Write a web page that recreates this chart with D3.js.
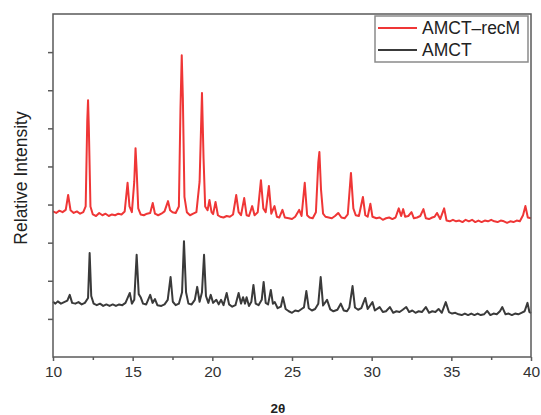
<!DOCTYPE html>
<html>
<head>
<meta charset="utf-8">
<script src="https://cdn.jsdelivr.net/npm/d3@7"></script>
<style>
  body { margin: 0; background: #fff; }
  text { font-family: "Liberation Sans", Arial, sans-serif; }
</style>
</head>
<body>
<div id="chart"></div>
<script>
// diffractogram points: [2theta, relative intensity]
var recM = [
  [10.0,3.82],[10.2,3.78],[10.4,3.84],[10.6,3.80],[10.8,3.86],[10.95,4.25],[11.1,3.85],[11.3,3.78],[11.5,3.82],[11.7,3.76],
  [11.9,3.80],[12.05,3.95],[12.15,6.2],[12.2,6.74],[12.25,6.0],[12.35,3.95],[12.5,3.74],[12.7,3.70],[12.9,3.78],[13.1,3.72],
  [13.3,3.76],[13.5,3.70],[13.7,3.74],[13.9,3.72],[14.1,3.76],[14.3,3.74],[14.5,3.82],[14.68,4.57],[14.8,3.95],[14.95,3.80],
  [15.1,4.6],[15.18,5.48],[15.25,4.9],[15.35,3.9],[15.5,3.74],[15.7,3.72],[15.9,3.76],[16.1,3.78],[16.26,4.04],[16.4,3.76],
  [16.6,3.72],[16.8,3.76],[17.0,3.82],[17.22,4.09],[17.35,3.85],[17.5,3.80],[17.7,3.78],[17.9,3.95],[18.0,6.5],[18.08,7.92],
  [18.15,6.8],[18.25,4.2],[18.4,3.80],[18.6,3.72],[18.8,3.76],[19.0,3.80],[19.2,4.6],[19.35,6.93],[19.45,5.2],[19.55,3.95],
  [19.7,3.85],[19.82,4.12],[19.95,3.80],[20.05,3.75],[20.2,4.07],[20.35,3.72],[20.5,3.68],[20.7,3.66],[20.9,3.70],[21.1,3.68],
  [21.3,3.74],[21.5,4.25],[21.65,3.80],[21.8,3.72],[22.0,4.17],[22.15,3.72],[22.3,3.70],[22.5,3.96],[22.65,3.72],[22.85,3.80],
  [23.05,4.64],[23.2,3.90],[23.35,3.80],[23.55,4.49],[23.7,3.76],[23.9,3.96],[24.05,3.68],[24.2,3.66],[24.4,3.86],[24.55,3.66],
  [24.8,3.64],[25.0,3.62],[25.2,3.68],[25.45,3.86],[25.6,3.70],[25.8,4.57],[25.95,3.72],[26.1,3.66],[26.3,3.64],[26.5,3.80],
  [26.65,5.1],[26.72,5.38],[26.82,4.4],[26.95,3.76],[27.1,3.68],[27.3,3.66],[27.5,3.64],[27.7,3.70],[27.9,3.78],[28.1,3.66],
  [28.3,3.64],[28.5,3.74],[28.7,4.83],[28.85,3.90],[29.0,3.72],[29.2,3.70],[29.45,4.20],[29.6,3.72],[29.75,3.68],[29.92,4.02],
  [30.05,3.68],[30.3,3.64],[30.5,3.66],[30.7,3.60],[30.9,3.64],[31.1,3.66],[31.3,3.62],[31.5,3.66],[31.7,3.90],[31.85,3.70],
  [31.98,3.88],[32.1,3.68],[32.3,3.70],[32.5,3.80],[32.65,3.64],[32.85,3.66],[33.05,3.70],[33.25,3.88],[33.4,3.64],[33.6,3.62],
  [33.8,3.66],[33.95,3.68],[34.1,3.78],[34.3,3.62],[34.55,3.90],[34.7,3.58],[34.9,3.56],[35.1,3.60],[35.3,3.56],[35.5,3.58],
  [35.7,3.54],[35.9,3.60],[36.1,3.56],[36.3,3.60],[36.5,3.54],[36.7,3.58],[36.9,3.54],[37.1,3.58],[37.3,3.56],[37.5,3.60],
  [37.7,3.56],[37.9,3.54],[38.1,3.58],[38.3,3.56],[38.5,3.52],[38.7,3.56],[38.9,3.54],[39.1,3.58],[39.3,3.56],[39.5,3.72],
  [39.65,3.96],[39.8,3.66],[40.0,3.64]
];

var amct = [
  [10.0,1.45],[10.15,1.40],[10.3,1.46],[10.5,1.40],[10.7,1.44],[10.9,1.48],[11.05,1.63],[11.2,1.42],[11.4,1.40],[11.6,1.44],
  [11.8,1.38],[12.0,1.42],[12.2,1.55],[12.3,2.73],[12.4,1.60],[12.55,1.40],[12.75,1.36],[12.95,1.40],[13.15,1.34],[13.35,1.38],
  [13.55,1.34],[13.75,1.38],[13.95,1.34],[14.15,1.38],[14.35,1.36],[14.55,1.42],[14.82,1.68],[14.95,1.40],[15.1,1.50],[15.25,2.68],
  [15.38,1.65],[15.5,1.57],[15.65,1.40],[15.85,1.38],[16.1,1.63],[16.25,1.42],[16.4,1.52],[16.55,1.36],[16.8,1.34],[17.0,1.38],
  [17.2,1.50],[17.38,2.10],[17.52,1.45],[17.7,1.36],[17.9,1.40],[18.1,1.70],[18.22,3.04],[18.35,1.70],[18.5,1.40],[18.7,1.38],
  [18.9,1.50],[19.05,1.84],[19.2,1.45],[19.35,1.70],[19.48,2.68],[19.6,1.60],[19.75,1.42],[19.9,1.63],[20.05,1.42],[20.25,1.50],
  [20.4,1.38],[20.55,1.50],[20.7,1.36],[20.9,1.68],[21.05,1.38],[21.25,1.32],[21.45,1.36],[21.65,1.68],[21.8,1.40],[21.93,1.57],
  [22.05,1.40],[22.15,1.57],[22.3,1.34],[22.45,1.45],[22.58,1.89],[22.72,1.40],[22.9,1.36],[23.1,1.50],[23.22,1.97],[23.35,1.42],
  [23.5,1.38],[23.67,1.76],[23.8,1.40],[23.92,1.44],[24.1,1.28],[24.3,1.32],[24.43,1.57],[24.6,1.26],[24.8,1.20],[25.0,1.16],
  [25.2,1.22],[25.4,1.20],[25.6,1.26],[25.75,1.30],[25.9,1.73],[26.05,1.28],[26.25,1.22],[26.45,1.26],[26.65,1.40],[26.8,2.10],
  [26.95,1.35],[27.2,1.50],[27.4,1.25],[27.6,1.20],[27.85,1.24],[28.06,1.40],[28.25,1.22],[28.45,1.20],[28.6,1.30],[28.8,1.86],
  [28.95,1.30],[29.15,1.24],[29.35,1.28],[29.6,1.55],[29.75,1.26],[30.05,1.44],[30.2,1.22],[30.5,1.31],[30.7,1.18],[30.9,1.20],
  [31.14,1.31],[31.35,1.16],[31.55,1.20],[31.75,1.18],[31.95,1.24],[32.17,1.31],[32.35,1.18],[32.55,1.22],[32.75,1.16],[32.95,1.20],
  [33.15,1.18],[33.4,1.31],[33.6,1.16],[33.8,1.20],[34.0,1.18],[34.2,1.26],[34.4,1.16],[34.65,1.44],[34.85,1.18],[35.05,1.14],
  [35.25,1.16],[35.45,1.12],[35.65,1.10],[35.85,1.14],[36.05,1.10],[36.25,1.14],[36.45,1.10],[36.65,1.14],[36.85,1.10],[37.05,1.12],
  [37.25,1.21],[37.45,1.10],[37.65,1.14],[37.85,1.12],[38.05,1.20],[38.2,1.31],[38.4,1.12],[38.6,1.14],[38.8,1.10],[39.0,1.14],
  [39.2,1.12],[39.4,1.16],[39.6,1.20],[39.78,1.42],[39.9,1.18],[40.0,1.15]
];

var xTicks = [10, 15, 20, 25, 30, 35, 40];
var xMinor = [12.5, 17.5, 22.5, 27.5, 32.5, 37.5];
var yTicks = [1, 2, 3, 4, 5, 6, 7, 8];

var series = [
  { name: "AMCT\u2013recM", color: "#ef3636", points: recM },
  { name: "AMCT", color: "#3a3a3a", points: amct }
];

var width = 541, height = 415;
var margin = { top: 14, right: 10, bottom: 58, left: 53 };

var svg = d3.select("#chart").append("svg")
  .attr("width", width)
  .attr("height", height);

var x = d3.scaleLinear().domain([10, 40]).range([margin.left, width - margin.right]);
var y = d3.scaleLinear().domain([0, 9]).range([height - margin.bottom, margin.top]);

var axisColor = "#5a5a5a";

// curves
var line = d3.line()
  .x(function(d) { return x(d[0]); })
  .y(function(d) { return y(d[1]); });

svg.selectAll("path.curve")
  .data(series)
  .enter().append("path")
    .attr("class", "curve")
    .attr("d", function(d) { return line(d.points); })
    .attr("fill", "none")
    .attr("stroke", function(d) { return d.color; })
    .attr("stroke-width", 2)
    .attr("stroke-linejoin", "round");

// frame
svg.append("rect")
  .attr("x", x(10)).attr("y", y(9))
  .attr("width", x(40) - x(10)).attr("height", y(0) - y(9))
  .attr("fill", "none")
  .attr("stroke", axisColor)
  .attr("stroke-width", 1.5);

// x axis
var xAxis = svg.append("g")
  .attr("transform", "translate(0," + y(0) + ")")
  .call(d3.axisBottom(x).tickValues(xTicks).tickSize(4).tickPadding(5));
xAxis.select(".domain").remove();
xAxis.selectAll("line").attr("stroke", axisColor).attr("stroke-width", 1.5);
xAxis.selectAll("text").attr("font-size", 15.5).attr("fill", "#333")
  .attr("font-family", "Liberation Sans, Arial, sans-serif");

svg.append("g")
  .attr("transform", "translate(0," + y(0) + ")")
  .call(d3.axisBottom(x).tickValues(xMinor).tickSize(3).tickFormat(""))
  .call(function(g) { g.select(".domain").remove(); })
  .selectAll("line").attr("stroke", axisColor).attr("stroke-width", 1.5);

// y axis, ticks without labels
svg.append("g")
  .attr("transform", "translate(" + x(10) + ",0)")
  .call(d3.axisLeft(y).tickValues(yTicks).tickSize(5).tickFormat(""))
  .call(function(g) { g.select(".domain").remove(); })
  .selectAll("line").attr("stroke", axisColor).attr("stroke-width", 1.5);

// axis titles
svg.append("text")
  .attr("x", 278).attr("y", 413)
  .attr("text-anchor", "middle")
  .attr("font-size", 13.5).attr("font-weight", "bold")
  .attr("fill", "#222")
  .text("2\u03b8");

svg.append("text")
  .attr("transform", "translate(27,178) rotate(-90)")
  .attr("text-anchor", "middle")
  .attr("font-size", 17.5)
  .attr("fill", "#222")
  .text("Relative Intensity");

// legend
var legend = svg.append("g").attr("transform", "translate(375,16)");
legend.append("rect")
  .attr("width", 153).attr("height", 46)
  .attr("fill", "#fff")
  .attr("stroke", "#8a8a8a")
  .attr("stroke-width", 1.5);

var items = legend.selectAll("g.item")
  .data(series)
  .enter().append("g")
    .attr("class", "item")
    .attr("transform", function(d, i) { return "translate(0," + (12 + i * 22) + ")"; });

items.append("line")
  .attr("x1", 3).attr("x2", 42)
  .attr("stroke", function(d) { return d.color; })
  .attr("stroke-width", 2);

items.append("text")
  .attr("x", 47).attr("y", 6)
  .attr("font-size", 17.5)
  .attr("fill", "#222")
  .text(function(d) { return d.name; });
</script>
</body>
</html>
